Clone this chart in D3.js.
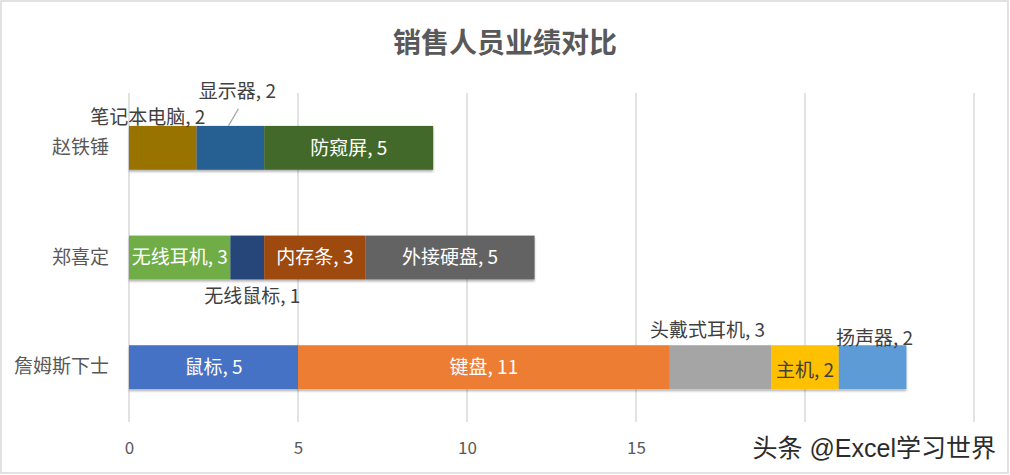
<!DOCTYPE html>
<html>
<head>
<meta charset="utf-8">
<script src="https://cdn.jsdelivr.net/npm/d3@7"></script>
<style>
  body { margin: 0; background: #fff; }
  text { font-family: "Noto Sans CJK SC", "Noto Sans", sans-serif; }
</style>
</head>
<body>
<div id="chart"></div>
<script>
// data
var people = ["赵铁锤", "郑喜定", "詹姆斯下士"];
var products = [
  ["笔记本电脑", "显示器", "防窥屏"],
  ["无线耳机", "无线鼠标", "内存条", "外接硬盘"],
  ["鼠标", "键盘", "头戴式耳机", "主机", "扬声器"]
];
var amounts = [
  [2, 2, 5],
  [3, 1, 3, 5],
  [5, 11, 3, 2, 2]
];
var xTicks = [0, 5, 10, 15, 20, 25];
// 20 and 25 sit under the watermark in the original
var xTickLabels = [0, 5, 10, 15];

// office palette per segment
var colors = [
  ["#997300", "#255E91", "#43682B"],
  ["#70AD47", "#264478", "#9E480E", "#636363"],
  ["#4472C4", "#ED7D31", "#A5A5A5", "#FFC000", "#5B9BD5"]
];
// label placement: default is centred white, these were moved by hand
var place = {
  "笔记本电脑": {dx: -15, dy: -31, fill: "#404040"},
  "显示器": {dx: 7, dy: -57, fill: "#404040", leader: true},
  "无线鼠标": {dx: 5, dy: 39, fill: "#404040"},
  "头戴式耳机": {dx: -13, dy: -37, fill: "#404040"},
  "主机": {dx: 0, dy: 3, fill: "#404040"},
  "扬声器": {dx: 2, dy: -29, fill: "#404040"}
};

var W = 1010, H = 475;
var margin = {top: 93, right: 36, bottom: 53, left: 129};

var svg = d3.select("#chart")
  .append("svg")
    .attr("width", W)
    .attr("height", H);

var defs = svg.append("defs");
var sh = defs.append("filter").attr("id", "shadow")
  .attr("x", "-5%").attr("y", "-10%").attr("width", "110%").attr("height", "130%");
sh.append("feDropShadow").attr("dx", 0).attr("dy", 2).attr("stdDeviation", 1)
  .attr("flood-color", "#000").attr("flood-opacity", 0.3);

// outer frame
svg.append("rect")
  .attr("x", 1).attr("y", 1).attr("width", W - 3).attr("height", H - 3)
  .attr("fill", "#fff").attr("stroke", "#d9d9d9").attr("stroke-width", 1.5);

// title
svg.append("text")
  .attr("x", 505).attr("y", 53)
  .attr("text-anchor", "middle")
  .attr("font-size", 28).attr("font-weight", "bold")
  .attr("fill", "#595959")
  .text("销售人员业绩对比");

var x = d3.scaleLinear()
  .domain([0, 25])
  .range([margin.left, W - margin.right]);

var y = d3.scaleBand()
  .domain(people)
  .range([margin.top, H - margin.bottom])
  .paddingInner(0.6)
  .paddingOuter(0.3);

// gridlines
svg.append("g")
  .selectAll("line")
  .data(xTicks)
  .enter()
  .append("line")
    .attr("x1", function(d) { return x(d); })
    .attr("x2", function(d) { return x(d); })
    .attr("y1", margin.top)
    .attr("y2", H - margin.bottom)
    .attr("stroke", "#d9d9d9")
    .attr("stroke-width", 1.5);

// x axis labels
var xAxis = svg.append("g")
  .attr("transform", "translate(0," + (H - margin.bottom) + ")")
  .call(d3.axisBottom(x).tickValues(xTickLabels).tickSize(0).tickPadding(20));
xAxis.select(".domain").remove();
xAxis.selectAll("text")
  .attr("font-size", 17)
  .attr("fill", "#595959");

// y axis labels
var yAxis = svg.append("g")
  .attr("transform", "translate(" + (margin.left - 20) + ",0)")
  .call(d3.axisLeft(y).tickSize(0).tickPadding(0));
yAxis.select(".domain").remove();
yAxis.selectAll("text")
  .attr("font-size", 19)
  .attr("fill", "#595959");

// build segments
var segs = [];
people.forEach(function(p, i) {
  var acc = 0;
  products[i].forEach(function(name, j) {
    segs.push({person: p, name: name, v: amounts[i][j], x0: acc, x1: acc + amounts[i][j], color: colors[i][j]});
    acc += amounts[i][j];
  });
});

// bars
svg.append("g")
  .attr("filter", "url(#shadow)")
  .selectAll("rect")
  .data(segs)
  .enter()
  .append("rect")
    .attr("x", function(d) { return x(d.x0); })
    .attr("y", function(d) { return y(d.person); })
    .attr("width", function(d) { return x(d.x1) - x(d.x0); })
    .attr("height", y.bandwidth())
    .attr("fill", function(d) { return d.color; });

// data labels
var lab = svg.append("g");
segs.forEach(function(d) {
  var cx = (x(d.x0) + x(d.x1)) / 2;
  var cy = y(d.person) + y.bandwidth() / 2;
  var p = place[d.name] || {dx: 0, dy: 0, fill: "#fff"};
  if (p.leader) {
    lab.append("line")
      .attr("x1", cx - 2).attr("y1", cy - 22)
      .attr("x2", cx + 8).attr("y2", cy - 39)
      .attr("stroke", "#a6a6a6").attr("stroke-width", 1.2);
  }
  lab.append("text")
    .attr("x", cx + p.dx)
    .attr("y", cy + p.dy)
    .attr("dy", "0.36em")
    .attr("text-anchor", "middle")
    .attr("font-size", 19)
    .attr("fill", p.fill)
    .text(d.name + ", " + d.v);
});

// watermark
svg.append("text")
  .attr("x", 996).attr("y", 457)
  .attr("text-anchor", "end")
  .attr("font-size", 25)
  .style("font-family", "'Liberation Sans', 'Noto Sans CJK SC', sans-serif")
  .attr("fill", "#2b2b2b")
  .attr("stroke", "#fff").attr("stroke-width", 3).attr("paint-order", "stroke")
  .text("头条 @Excel学习世界");
</script>
</body>
</html>
